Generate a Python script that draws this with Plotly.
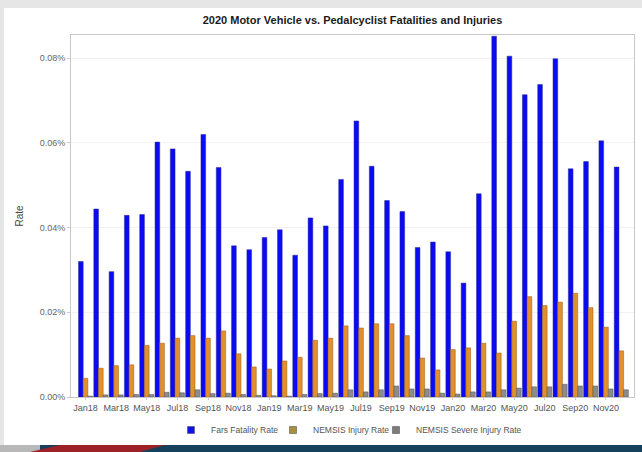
import plotly.graph_objects as go

months = [f"{m}{y}" for y in ["18", "19", "20"] for m in
          ["Jan", "Feb", "Mar", "Apr", "May", "Jun", "Jul", "Aug", "Sep", "Oct", "Nov", "Dec"]]

fars = [0.0320, 0.0444, 0.0296, 0.0429, 0.0431, 0.0602, 0.0586, 0.0533, 0.0620, 0.0542, 0.0357, 0.0348,
        0.0377, 0.0395, 0.0335, 0.0423, 0.0404, 0.0514, 0.0652, 0.0545, 0.0464, 0.0438, 0.0353, 0.0366,
        0.0343, 0.0269, 0.0480, 0.0852, 0.0805, 0.0714, 0.0738, 0.0799, 0.0539, 0.0556, 0.0605, 0.0543]

nemsis_injury = [0.0044, 0.0068, 0.0074, 0.0076, 0.0122, 0.0127, 0.0139, 0.0145, 0.0139, 0.0156, 0.0102, 0.0071,
                 0.0066, 0.0085, 0.0094, 0.0134, 0.0139, 0.0168, 0.0163, 0.0173, 0.0173, 0.0145, 0.0092, 0.0064,
                 0.0112, 0.0116, 0.0127, 0.0104, 0.0179, 0.0237, 0.0216, 0.0224, 0.0245, 0.0211, 0.0165, 0.0109]

nemsis_severe = [0.0002, 0.0005, 0.0005, 0.0006, 0.0006, 0.0011, 0.0010, 0.0017, 0.0008, 0.0009, 0.0006, 0.0004,
                 0.0003, 0.0002, 0.0006, 0.0008, 0.0009, 0.0017, 0.0012, 0.0017, 0.0026, 0.0019, 0.0019, 0.0009,
                 0.0007, 0.0012, 0.0012, 0.0017, 0.0021, 0.0024, 0.0024, 0.0030, 0.0026, 0.0026, 0.0019, 0.0017]

series_names = ["Fars Fatality Rate", "NEMSIS Injury Rate", "NEMSIS Severe Injury Rate"]
tick_labels = months[::2]
y_ticks = [0.0, 0.02, 0.04, 0.06, 0.08]

# plot area in pixels
L, R, T, B = 71, 634, 35, 397
W, H = 642, 452
def px(x):
    return (x - L) / (R - L)
def py(y):
    return (B - y) / (B - T)

fills = ["#0a0af5", "#e0902c", "#8c8c8c"]
edges = ["#2a2a90", "#9a5c14", "#505050"]
legend_fills = ["#1010e8", "#a89038", "#7c7c7c"]
legend_ids = ["legend", "legend2", "legend3"]
legend_x = [192, 294, 397]  # pixel centres of legend squares

fig = go.Figure()
for name, vals, fc, ec in zip(series_names, [fars, nemsis_injury, nemsis_severe], fills, edges):
    fig.add_bar(x=months, y=vals, name=name, showlegend=False, legendgroup=name,
                marker=dict(color=fc, line=dict(color=ec, width=0.5)))
for name, lc, lid in zip(series_names, legend_fills, legend_ids):
    fig.add_scatter(x=[None], y=[None], mode="markers", name=name, legendgroup=name, legend=lid,
                    marker=dict(symbol="square", size=7, color=lc, line=dict(color="#444", width=0.5)))

shapes = [
    dict(type="rect", xref="paper", yref="paper", x0=px(0), x1=px(W), y0=py(0), y1=py(8),
         fillcolor="#e6e6e6", line=dict(width=0), layer="below"),
    dict(type="rect", xref="paper", yref="paper", x0=px(0), x1=px(4), y0=py(0), y1=py(452),
         fillcolor="#e6e6e6", line=dict(width=0), layer="below"),
    dict(type="rect", xref="paper", yref="paper", x0=px(0), x1=px(W), y0=py(445), y1=py(452),
         fillcolor="#15415c", line=dict(width=0), layer="above"),
    dict(type="rect", xref="paper", yref="paper", x0=px(0), x1=px(40), y0=py(445), y1=py(452),
         fillcolor="#b8b8b8", line=dict(width=0), layer="above"),
    dict(type="path", xref="paper", yref="paper",
         path=f"M {px(30)} {py(452)} L {px(60)} {py(445)} L {px(165)} {py(445)} L {px(140)} {py(452)} Z",
         fillcolor="#9c2228", line=dict(width=0), layer="above"),
]

legend_style = dict(orientation="h", xanchor="left", yanchor="middle", y=py(430),
                    font=dict(size=8.5, color="#555555"), itemwidth=30,
                    bgcolor="rgba(0,0,0,0)", tracegroupgap=0)

fig.update_layout(
    width=W, height=H,
    margin=dict(l=L, r=W - R, t=T, b=H - B, pad=0),
    paper_bgcolor="white", plot_bgcolor="white",
    barmode="group", bargap=0.08, bargroupgap=0,
    font=dict(family="Liberation Sans, Arial, sans-serif", size=9, color="#555555"),
    title=dict(text="<b>2020 Motor Vehicle vs. Pedalcyclist Fatalities and Injuries</b>",
               x=0.5, xref="paper", xanchor="center", y=1 - 20 / H, yanchor="middle",
               font=dict(size=11, color="#1a1a1a")),
    showlegend=True,
    legend=dict(legend_style, x=px(legend_x[0] - 21)),
    legend2=dict(legend_style, x=px(legend_x[1] - 21)),
    legend3=dict(legend_style, x=px(legend_x[2] - 21)),
    shapes=shapes,
)
fig.update_xaxes(type="category", range=[-0.95, 35.83], tickmode="array",
                 tickvals=tick_labels, ticktext=tick_labels, tickangle=0,
                 showline=True, linecolor="#c8c8c8", mirror=True, showgrid=False,
                 ticks="outside", ticklen=2, tickcolor="#c8c8c8",
                 tickfont=dict(size=9, color="#555555"))
fig.update_yaxes(range=[0, 0.0855], tickmode="array", tickvals=y_ticks,
                 ticktext=[f"{v:.2f}%" for v in y_ticks],
                 showline=True, linecolor="#c8c8c8", mirror=True,
                 showgrid=True, gridcolor="#f2f2f2", zeroline=False,
                 ticks="outside", ticklen=3, tickcolor="#c8c8c8",
                 tickfont=dict(size=9, color="#666666"),
                 title=dict(text="Rate", standoff=14, font=dict(size=10, color="#444444")))

fig.write_html("out.html", config={"displayModeBar": False},
               post_script="document.body.style.margin='0';document.body.style.overflow='hidden';"
                           "document.documentElement.style.overflow='hidden';")
